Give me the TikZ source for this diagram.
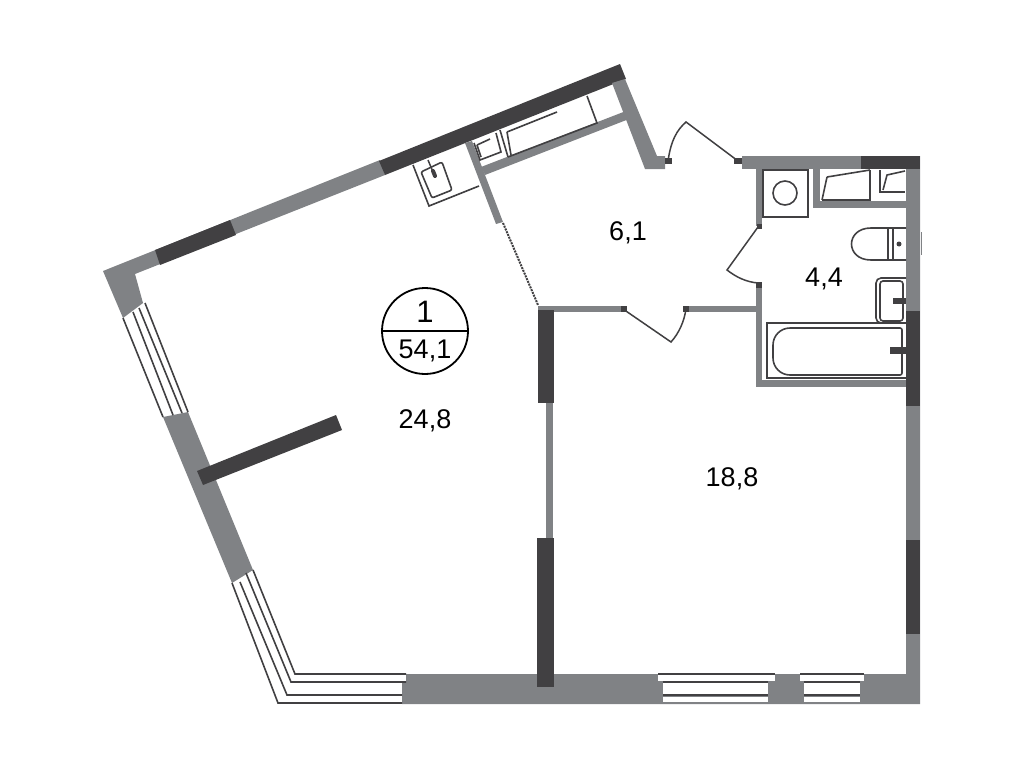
\documentclass[tikz,border=0pt]{standalone}
\usepackage{fontspec}
\setmainfont{Liberation Sans}
\usepackage{tikz}
\usetikzlibrary{positioning, calc}

\definecolor{wallgray}{HTML}{808285}
\definecolor{walldark}{HTML}{414042}

\begin{document}
\begin{tikzpicture}[x=1pt, y=-1pt]
	% Define styles
	\tikzset{
		wall/.style={fill=wallgray, draw=none},
		bearing/.style={fill=walldark, draw=none},
		fixture/.style={draw=walldark, line width=1.6pt, line join=miter},
		glass/.style={draw=walldark, line width=1.6pt},
		pane/.style={fill=white, draw=none},
		door/.style={draw=walldark, line width=1.5pt},
		area/.style={font=\fontsize{27}{29}\selectfont, text=black, inner sep=0pt},
		badge/.style={circle, draw=black, line width=1.8pt, minimum size=86pt, inner sep=0pt}
	}
	\useasboundingbox (0,0) rectangle (1024,768);
	
	% Outer walls
	\fill[wall] (103,271) -- (380,160) -- (385,175) -- (135,274) -- (143,303) -- (123,318) -- cycle;
	\fill[wall] (163,417) -- (188,412) -- (253,570) -- (232,583) -- cycle;
	\fill[wall] (406,674) -- (906,674) -- (906,156) -- (920,156) -- (920,704) -- (402,704) -- (402,682) -- (406,682) -- cycle;
	\fill[bearing] (155,250) -- (230,220) -- (236,235) -- (160,265) -- cycle;
	\fill[bearing] (379,161) -- (620,64) -- (626,79) -- (385,175) -- cycle;
	\fill[bearing] (861,156) rectangle (920,169);
	\fill[bearing] (906,311) rectangle (920,406);
	\fill[bearing] (906,540) rectangle (920,634);
	
	% Inner walls
	\fill[wall] (612,83) -- (625,79) -- (657,156) -- (665,156) -- (665,169) -- (645,169) -- cycle;
	\fill[wall] (742,156) rectangle (861,169);
	\fill[wall] (465,143) -- (472,141) -- (503,222) -- (496,224) -- cycle;
	\fill[wall] (481,167) -- (626,111) -- (629,119) -- (485,175) -- cycle;
	\fill[wall] (538,306) rectangle (622,312);
	\fill[wall] (686,306) rectangle (756,312);
	\fill[wall] (756,169) rectangle (762,226);
	\fill[wall] (756,284) rectangle (762,387);
	\fill[wall] (756,380) rectangle (906,387);
	\fill[wall] (813,169) rectangle (820,208);
	\fill[wall] (813,201) rectangle (906,208);
	\fill[wall] (546,403) rectangle (553,538);
	\fill[bearing] (538,310) rectangle (554,403);
	\fill[bearing] (537,538) rectangle (554,687);
	\fill[bearing] (197,471) -- (336,415) -- (342,430) -- (203,485) -- cycle;
	
	% Windows
	\draw[glass] (123,318) -- (163,417);
	\draw[glass] (133,312) -- (173,415);
	\draw[glass] (139,308) -- (182,413);
	\draw[glass] (145,303) -- (188,412);
	\draw[glass] (232,583) -- (278,703) -- (402,703);
	\draw[glass] (240,582) -- (287,695) -- (402,695);
	\draw[glass] (246,573) -- (291,682) -- (406,682);
	\draw[glass] (253,570) -- (295,674) -- (406,674);
	\fill[pane] (658,675) rectangle (775,681);
	\fill[pane] (663,683) rectangle (768,694);
	\fill[pane] (663,696.5) rectangle (768,702);
	\fill[pane] (800,675) rectangle (864,681);
	\fill[pane] (804,683) rectangle (860,694);
	\fill[pane] (804,696.5) rectangle (860,702);
	\draw[glass] (658,674) -- (775,674);
	\draw[glass] (663,682) -- (768,682);
	\draw[glass] (663,695) -- (768,695);
	\draw[glass] (800,674) -- (864,674);
	\draw[glass] (804,682) -- (860,682);
	\draw[glass] (804,695) -- (860,695);
	
	% Doors
	\fill[bearing] (665,158) rectangle (672,164);
	\fill[bearing] (734,158) rectangle (742,164);
	\draw[door] (668,161) .. controls (671,140) and (677,130) .. (686,122) -- (738,161);
	\fill[bearing] (757,224) rectangle (762,229);
	\fill[bearing] (756,282) rectangle (762,288);
	\draw[door] (758,227) -- (727,270) .. controls (736,277) and (746,282) .. (758,283);
	\fill[bearing] (621,306) rectangle (627,312);
	\fill[bearing] (683,306) rectangle (689,312);
	\draw[door] (623,309) -- (671,342) .. controls (679,333) and (684,322) .. (686,309);
	\draw[walldark, line width=2pt, densely dotted] (503,223) -- (538,305);
	
	% Kitchen
	\draw[fixture] (413,165) -- (429,206) -- (479,186);
	\draw[fixture, rounded corners=2pt] (421,172) -- (442,162) -- (452,190) -- (432,198) -- cycle;
	\draw[walldark, line width=1.5pt] (428,160) -- (433,172);
	\draw[walldark, line width=4pt, line cap=round] (433,171) -- (435,176);
	\draw[fixture] (474,143) -- (480,160) -- (501,152) -- (496,133);
	\draw[fixture] (477,145) -- (490,139);
	\draw[fixture] (477,145) -- (481,157);
	\draw[fixture] (500,130) -- (508,157);
	\draw[fixture] (507,132) -- (511,155);
	\draw[fixture] (507,132) -- (557,112);
	\draw[fixture] (508,157) -- (597,123) -- (587,96);
	
	% Bathroom
	\draw[fixture] (763,170) rectangle (808,217);
	\draw[fixture] (785,193) circle (12);
	\draw[fixture] (822,200) -- (870,200) -- (870,170);
	\draw[fixture] (827,177) -- (870,170);
	\draw[fixture] (822,200) -- (827,177);
	\draw[fixture] (880,170) -- (880,192) -- (905,192);
	\draw[fixture] (883,190) -- (887,175) -- (905,171);
	\draw[fixture] (906,228) -- (871,228) .. controls (845,228) and (845,260) .. (871,260) -- (906,260);
	\draw[fixture] (888,228) -- (888,260);
	\draw[fixture] (893,228) -- (893,260);
	\fill[walldark] (899,244) circle (2.5);
	\draw[wallgray, line width=1pt] (921,232) -- (921,255);
	\draw[fixture, rounded corners=5pt] (906,278) -- (876,278) -- (876,323) -- (906,323);
	\draw[fixture, rounded corners=3pt] (903,281) rectangle (880,321);
	\fill[walldark] (893,298) rectangle (906,304);
	\draw[fixture] (906,323) -- (767,323) -- (767,378) -- (906,378);
	\draw[fixture, rounded corners=17pt] (773,328) rectangle (850,375);
	\fill[white] (835,326) rectangle (860,377);
	\draw[fixture, rounded corners=2pt] (830,328) -- (902,328) -- (902,375) -- (830,375);
	\fill[walldark] (890,347) rectangle (906,354);
	
	% Labels
	\node[badge] (badge1) at (425,331) {};
	\draw[black, line width=1.8pt] (badge1.west) -- (badge1.east);
	\node[area, font=\fontsize{31}{33}\selectfont] (flat) at (425,312) {1};
	\node[area, below=17pt of flat] (total) {54,1};
	\node[area] (living) at (425,421) {24,8};
	\node[area] (bedroom) at (732,479) {18,8};
	\node[area] (hall) at (628,233) {6,1};
	\node[area] (bath) at (824,279) {4,4};
\end{tikzpicture}
\end{document}
